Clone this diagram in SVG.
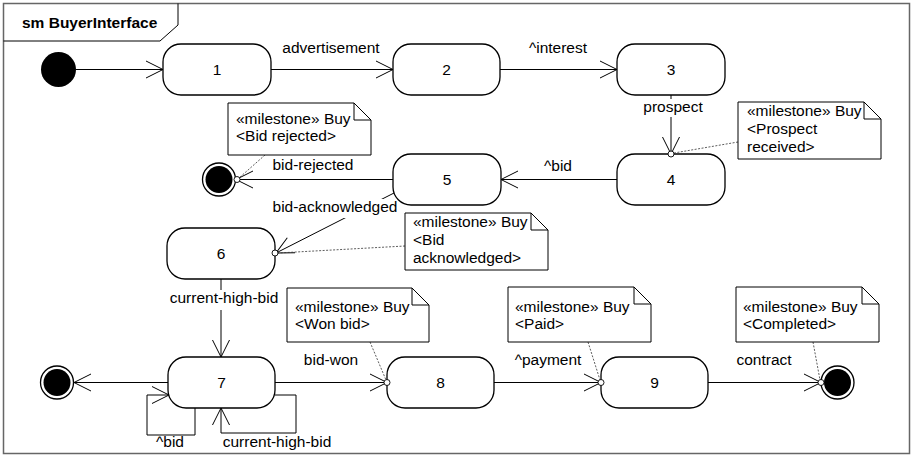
<svg xmlns="http://www.w3.org/2000/svg" width="912" height="457" viewBox="0 0 912 457">
  <style>
    text { font-family: "Liberation Sans", Arial, sans-serif; font-size: 15.5px; fill: #000; }
    .title { font-weight: bold; }
    .mid { text-anchor: middle; }
    .state { fill: #fff; stroke: #000; stroke-width: 1.3; }
    .edge { fill: none; stroke: #000; stroke-width: 1; }
    .note { fill: #fff; stroke: #000; stroke-width: 1; }
    .fold { fill: none; stroke: #000; stroke-width: 1; }
    .link { fill: none; stroke: #333; stroke-width: 0.8; stroke-dasharray: 2 1.5; }
    .anchor { fill: #fff; stroke: #000; stroke-width: 0.9; }
    .labelbg { fill: #fff; stroke: none; }
  </style>
  <defs>
    <marker id="open" viewBox="-20 -10 22 20" refX="0" refY="0" markerWidth="22" markerHeight="20" markerUnits="userSpaceOnUse" orient="auto" overflow="visible">
      <path d="M-17,-8.5 L0,0 L-17,8.5" fill="none" stroke="#000" stroke-width="1"/>
    </marker>
  </defs>

  <rect x="0" y="0" width="912" height="457" fill="#fff"/>

  <!-- frame -->
  <g id="frame">
    <rect x="3.5" y="3.5" width="906" height="450" fill="none" stroke="#666" stroke-width="1.5"/>
    <path d="M3.5,41 H160 L178,25 V3.5" fill="none" stroke="#000" stroke-width="1"/>
    <text class="title" x="22" y="28">sm BuyerInterface</text>
  </g>

  <!-- transitions -->
  <g id="connectors">
    <path class="edge" d="M76,69.5 H163" marker-end="url(#open)"/>
    <path class="edge" d="M271,69.5 H393" marker-end="url(#open)"/>
    <path class="edge" d="M500,69.5 H617" marker-end="url(#open)"/>
    <path class="edge" d="M671,95 V154" marker-end="url(#open)"/>
    <path class="edge" d="M617,179.5 H501" marker-end="url(#open)"/>
    <path class="edge" d="M393,179.5 H236" marker-end="url(#open)"/>
    <path class="edge" d="M394,193 L276,253" marker-end="url(#open)"/>
    <path class="edge" d="M221,279 V357" marker-end="url(#open)"/>
    <path class="edge" d="M168,382.5 H74" marker-end="url(#open)"/>
    <path class="edge" d="M275,382.5 H387" marker-end="url(#open)"/>
    <path class="edge" d="M494,382.5 H601" marker-end="url(#open)"/>
    <path class="edge" d="M708,382.5 H821" marker-end="url(#open)"/>
    <path class="edge" d="M195,408 V435 H147 V395 H169" marker-end="url(#open)"/>
    <path class="edge" d="M275,395 H296 V433 H221 V408" marker-end="url(#open)"/>

    <rect class="labelbg" x="643" y="99" width="60" height="18"/>
    <rect class="labelbg" x="168" y="290" width="112" height="20"/>
    <rect class="labelbg" x="270" y="199" width="128" height="19"/>

    <text class="mid" x="331" y="53">advertisement</text>
    <text class="mid" x="558" y="53">^interest</text>
    <text class="mid" x="673" y="112">prospect</text>
    <text class="mid" x="558" y="171">^bid</text>
    <text class="mid" x="313" y="170">bid-rejected</text>
    <text class="mid" x="335" y="212">bid-acknowledged</text>
    <text class="mid" x="224" y="303">current-high-bid</text>
    <text class="mid" x="331" y="365">bid-won</text>
    <text class="mid" x="548" y="365">^payment</text>
    <text class="mid" x="764" y="365">contract</text>
    <text class="mid" x="170" y="447">^bid</text>
    <text class="mid" x="277" y="447">current-high-bid</text>
  </g>

  <!-- pseudo states -->
  <g id="initial"><circle cx="58.5" cy="69.5" r="17.5" fill="#000"/></g>
  <g id="final-rejected">
    <circle cx="219" cy="179.5" r="16.5" fill="#fff" stroke="#000" stroke-width="1.3"/>
    <circle cx="219" cy="179.5" r="13.5" fill="#000"/>
  </g>
  <g id="final-left">
    <circle cx="57" cy="382.5" r="16.5" fill="#fff" stroke="#000" stroke-width="1.3"/>
    <circle cx="57" cy="382.5" r="13.5" fill="#000"/>
  </g>
  <g id="final-completed">
    <circle cx="837.5" cy="382.5" r="16.5" fill="#fff" stroke="#000" stroke-width="1.3"/>
    <circle cx="837.5" cy="382.5" r="13.5" fill="#000"/>
  </g>

  <!-- states -->
  <g id="s1"><rect class="state" x="163" y="44" width="108" height="51" rx="18"/><text class="mid" x="217" y="75">1</text></g>
  <g id="s2"><rect class="state" x="393" y="44" width="107" height="51" rx="18"/><text class="mid" x="446.5" y="75">2</text></g>
  <g id="s3"><rect class="state" x="617" y="44" width="108" height="51" rx="18"/><text class="mid" x="671" y="75">3</text></g>
  <g id="s4"><rect class="state" x="617" y="154" width="108" height="51" rx="18"/><text class="mid" x="671" y="185">4</text></g>
  <g id="s5"><rect class="state" x="393" y="154" width="108" height="51" rx="18"/><text class="mid" x="447" y="185">5</text></g>
  <g id="s6"><rect class="state" x="167" y="228" width="108" height="51" rx="18"/><text class="mid" x="221" y="259">6</text></g>
  <g id="s7"><rect class="state" x="168" y="357" width="107" height="51" rx="18"/><text class="mid" x="221.5" y="388">7</text></g>
  <g id="s8"><rect class="state" x="387" y="357" width="107" height="51" rx="18"/><text class="mid" x="440.5" y="388">8</text></g>
  <g id="s9"><rect class="state" x="601" y="357" width="107" height="51" rx="18"/><text class="mid" x="654.5" y="388">9</text></g>

  <!-- milestone notes -->
  <g id="note-bid-rejected">
    <path class="link" d="M265,155 L239,178"/>
    <circle class="anchor" cx="237" cy="179.5" r="3"/>
    <path class="note" d="M228,103 H354 L371,120 V155 H228 Z"/>
    <text x="236" y="124">«milestone» Buy</text>
    <text x="236" y="141">&lt;Bid rejected&gt;</text>
    <path class="fold" d="M354,103 V120 H371"/>
  </g>
  <g id="note-prospect">
    <path class="link" d="M738,142 L674,153"/>
    <circle class="anchor" cx="671" cy="154" r="3"/>
    <path class="note" d="M738,102 H864 L881,119 V159 H738 Z"/>
    <text x="747" y="116">«milestone» Buy</text>
    <text x="747" y="134">&lt;Prospect</text>
    <text x="747" y="152">received&gt;</text>
    <path class="fold" d="M864,102 V119 H881"/>
  </g>
  <g id="note-acknowledged">
    <path class="link" d="M405,246 L278,253"/>
    <circle class="anchor" cx="275" cy="253" r="3"/>
    <path class="note" d="M405,213 H531 L548,230 V270 H405 Z"/>
    <text x="413" y="227">«milestone» Buy</text>
    <text x="413" y="245">&lt;Bid</text>
    <text x="413" y="263">acknowledged&gt;</text>
    <path class="fold" d="M531,213 V230 H548"/>
  </g>
  <g id="note-won">
    <path class="link" d="M370,342 L386,380"/>
    <circle class="anchor" cx="387" cy="382.5" r="3"/>
    <path class="note" d="M287,288 H412 L429,305 V342 H287 Z"/>
    <text x="295" y="312">«milestone» Buy</text>
    <text x="295" y="329">&lt;Won bid&gt;</text>
    <path class="fold" d="M412,288 V305 H429"/>
  </g>
  <g id="note-paid">
    <path class="link" d="M588,342 L600,380"/>
    <circle class="anchor" cx="601" cy="382.5" r="3"/>
    <path class="note" d="M508,287 H634 L651,304 V342 H508 Z"/>
    <text x="515" y="312">«milestone» Buy</text>
    <text x="515" y="329">&lt;Paid&gt;</text>
    <path class="fold" d="M634,287 V304 H651"/>
  </g>
  <g id="note-completed">
    <path class="link" d="M813,342 L820,380"/>
    <circle class="anchor" cx="821" cy="382.5" r="3"/>
    <path class="note" d="M736,287 H862 L879,304 V342 H736 Z"/>
    <text x="743" y="312">«milestone» Buy</text>
    <text x="743" y="329">&lt;Completed&gt;</text>
    <path class="fold" d="M862,287 V304 H879"/>
  </g>
</svg>
